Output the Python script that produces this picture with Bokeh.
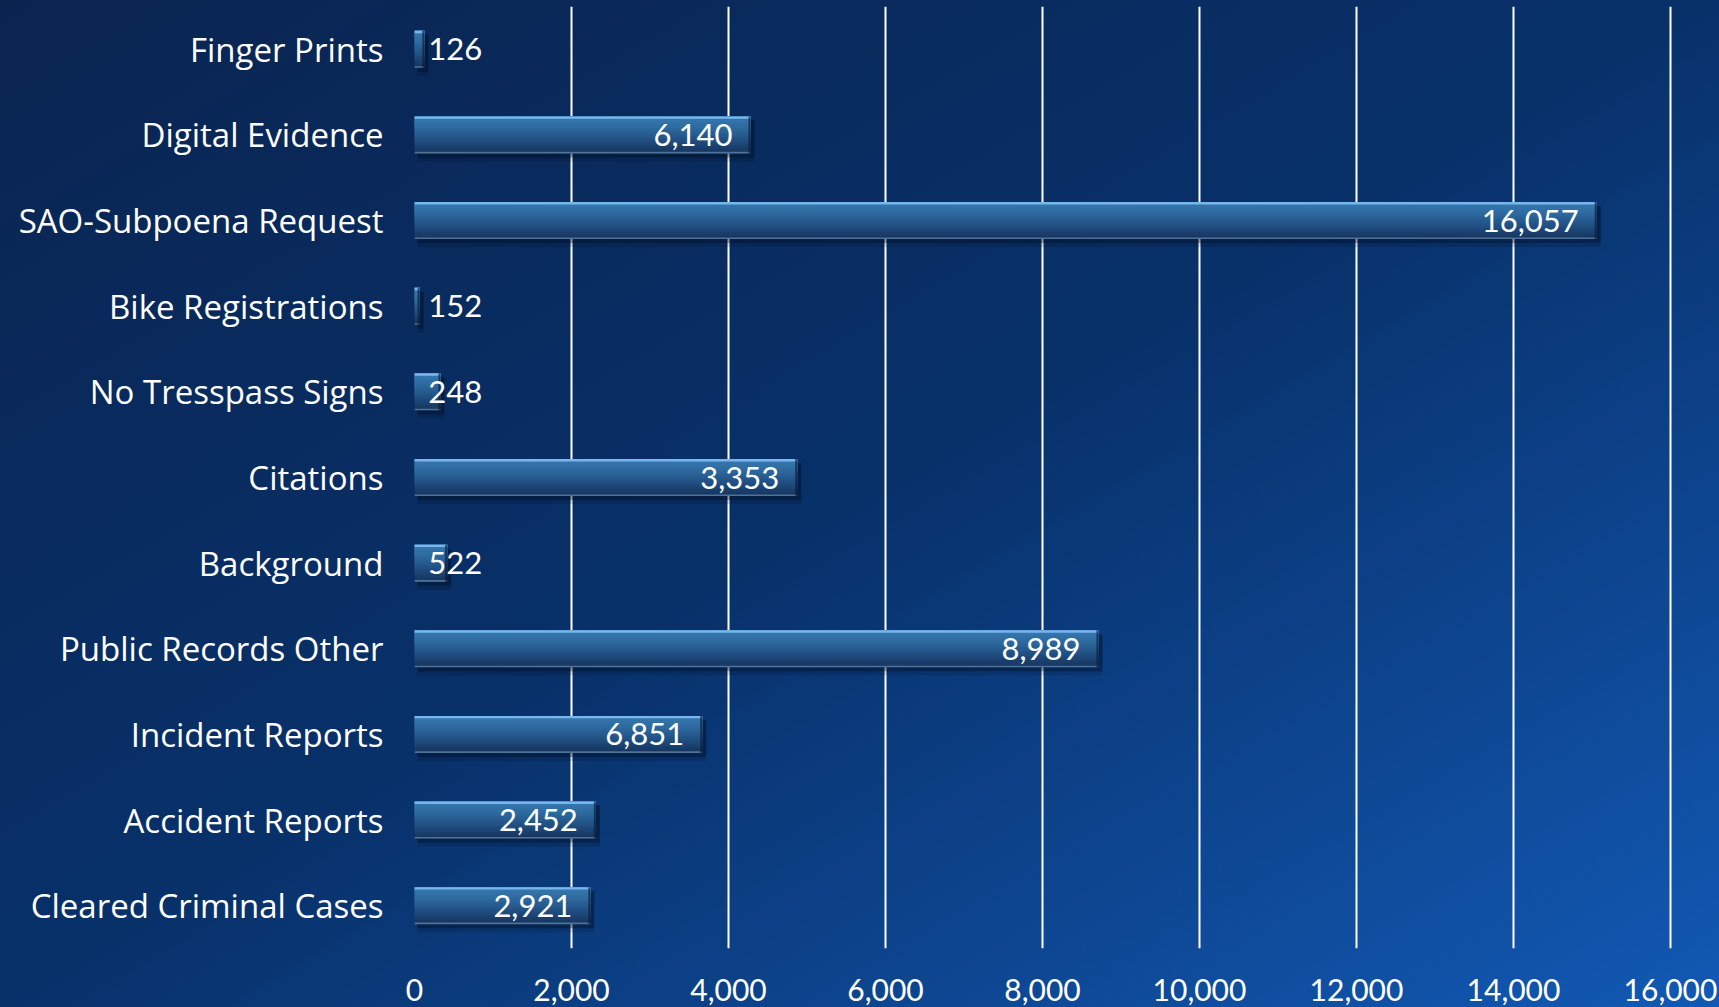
import numpy as np
from bokeh.plotting import figure
from bokeh.models import ColumnDataSource, FactorRange, Range1d, FixedTicker, NumeralTickFormatter
from bokeh.transform import dodge
from bokeh.core.properties import value
from bokeh.embed import file_html
from bokeh.resources import INLINE

# ---- data (top to bottom as shown) ----
categories = ["Finger Prints", "Digital Evidence", "SAO-Subpoena Request", "Bike Registrations",
              "No Tresspass Signs", "Citations", "Background", "Public Records Other",
              "Incident Reports", "Accident Reports", "Cleared Criminal Cases"]
value_labels = [126, 6140, 16057, 152, 248, 3353, 522, 8989, 6851, 2452, 2921]
bar_lengths = [125, 4280, 15060, 65, 330, 4875, 416, 8713, 3665, 2310, 2240]
x_ticks = [0, 2000, 4000, 6000, 8000, 10000, 12000, 14000, 16000]

FONT = "Lato"
CAT_FONT = "Open Sans"
W, H = 1719, 1007
X_MAX = 16000

px_per_unit = (1670 - 414) / X_MAX
vx = 1.0 / px_per_unit              # one pixel in x units

p = figure(width=W, height=H,
           y_range=FactorRange(factors=categories[::-1]),
           x_range=Range1d(0, X_MAX + 3 * vx),
           output_backend="svg", toolbar_location=None,
           min_border_left=414, min_border_right=46,
           min_border_top=6, min_border_bottom=59)
p.background_fill_alpha = 0
p.border_fill_alpha = 0
p.outline_line_color = None
p.styles = {"background": "linear-gradient(to bottom right, #0a2450 0%, #08316a 50%, #1259b4 100%)"}

# grid
p.xgrid.ticker = FixedTicker(ticks=x_ticks)
p.xgrid.grid_line_color = "white"
p.xgrid.grid_line_width = 2
p.ygrid.grid_line_color = None

# axes
p.yaxis.axis_line_color = None
p.yaxis.major_tick_line_color = None
p.yaxis.minor_tick_line_color = None
p.yaxis.major_label_standoff = 25
p.yaxis.major_label_text_font = CAT_FONT
p.yaxis.major_label_text_font_size = "33px"
p.yaxis.major_label_text_color = "white"

p.xaxis.ticker = FixedTicker(ticks=x_ticks)
p.xaxis.formatter = NumeralTickFormatter(format="0,0")
p.xaxis.axis_line_color = None
p.xaxis.major_tick_line_color = None
p.xaxis.minor_tick_line_color = None
p.xaxis.major_label_standoff = 24
p.xaxis.major_label_text_font = FONT
p.xaxis.major_label_text_font_size = "30px"
p.xaxis.major_label_text_color = "white"

# geometry helpers (pixel -> band units)
band_px = 942 / len(categories)
vy = 1.0 / band_px
BAR_H = 37 * vy

bars = np.array(bar_lengths, dtype=float)
src = ColumnDataSource(dict(
    cat=categories,
    bar=bars,
    sh_l=np.full(len(bars), 3 * vx),
    sh_r=bars + 4 * vx,
    cap_l=np.maximum(bars - 2 * vx, 0),
    lab=[f"{v:,}" for v in value_labels],
    lx=np.maximum(bars - 18 * vx, 862),
))

# soft shadow
p.hbar(y=dodge("cat", -6 * vy, range=p.y_range), left="sh_l", right="sh_r", height=BAR_H + 4 * vy,
       source=src, fill_color="#010817", fill_alpha=0.15, line_color=None)
p.hbar(y=dodge("cat", -4 * vy, range=p.y_range), left="sh_l", right="sh_r", height=BAR_H,
       source=src, fill_color="#010817", fill_alpha=0.32, line_color=None)

# bar body: vertical gradient built from nested rectangles anchored at the bar top
stops = [(0.0, (0x37, 0x7a, 0xb2)), (0.35, (0x2c, 0x67, 0x9c)), (0.7, (0x1f, 0x4a, 0x7c)), (1.0, (0x15, 0x32, 0x5a))]
def col_at(t):
    for (t0, c0), (t1, c1) in zip(stops[:-1], stops[1:]):
        if t0 <= t <= t1:
            f = (t - t0) / (t1 - t0)
            return "#%02x%02x%02x" % tuple(int(round(a + (b - a) * f)) for a, b in zip(c0, c1))
    return "#%02x%02x%02x" % stops[-1][1]

N = 16
for k in range(N, 0, -1):
    depth = BAR_H * k / N          # rect covers from bar top down to this depth
    off = BAR_H / 2 - depth / 2
    p.hbar(y=dodge("cat", off, range=p.y_range), left=0, right="bar", height=depth,
           source=src, fill_color=col_at((k - 0.5) / N), line_color=None)

# top highlight and bottom edge
p.hbar(y=dodge("cat", BAR_H / 2 - 1.2 * vy, range=p.y_range), left=0, right="bar", height=2.4 * vy,
       source=src, fill_color="#79b6ee", line_color=None)
p.hbar(y=dodge("cat", -BAR_H / 2 + 0.8 * vy, range=p.y_range), left=0, right="bar", height=1.6 * vy,
       source=src, fill_color="#4d7399", line_color=None)
# dark right end
p.hbar(y="cat", left="cap_l", right="bar", height=BAR_H, source=src,
       fill_color="#0b1d3a", fill_alpha=0.7, line_color=None)

# value labels
p.text(x="lx", y="cat", text="lab", source=src, text_align="right", text_baseline="middle",
       text_font=value(FONT), text_font_size="31px", text_color="white")

open("out.html", "w").write(file_html(p, INLINE))
